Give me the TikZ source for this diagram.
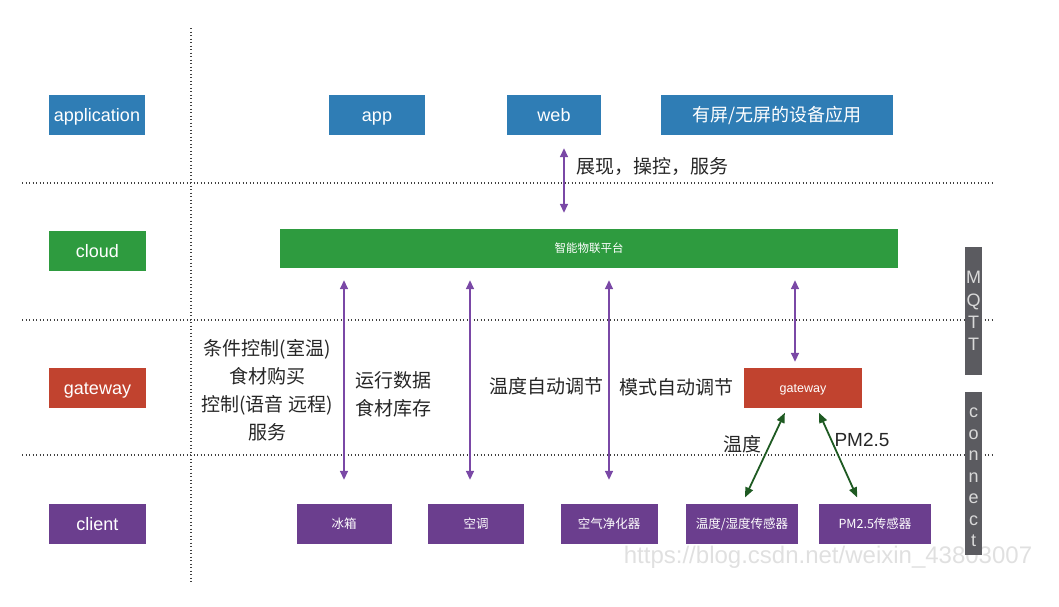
\documentclass[tikz,border=0pt]{standalone}
\usepackage{fontspec}
\setmainfont{Liberation Sans}
\newfontfamily\cjk{Noto Sans CJK SC}
\usetikzlibrary{arrows.meta,calc}
\definecolor{cblue}{HTML}{2F7DB5}
\definecolor{cgreen}{HTML}{2E9B3F}
\definecolor{cred}{HTML}{C1432F}
\definecolor{cpurple}{HTML}{6B3E8E}
\definecolor{carrow}{HTML}{7A48A6}
\definecolor{cdgreen}{HTML}{1E5A22}
\definecolor{cbar}{HTML}{5B5B60}
\definecolor{cdot}{HTML}{404040}
\tikzset{
  box/.style={draw=none, text=white, inner sep=0pt, minimum height=40pt, font=\fontsize{18}{20}\selectfont},
  latinbox/.style={text height=15pt, text depth=3pt},
  bluebox/.style={box, fill=cblue},
  greenbox/.style={box, fill=cgreen},
  redbox/.style={box, fill=cred},
  purplebox/.style={box, fill=cpurple, font=\cjk\fontsize{12.5}{14}\selectfont},
  sepline/.style={draw=cdot, line width=1.4pt, dash pattern=on 1.4pt off 2.1pt},
  parrow/.style={draw=carrow, line width=1.6pt, {Triangle[length=9pt,width=8pt]}-{Triangle[length=9pt,width=8pt]}},
  garrow/.style={draw=cdgreen, line width=1.8pt, {Triangle[length=10pt,width=8pt]}-{Triangle[length=10pt,width=8pt]}},
  lbl/.style={font=\cjk\fontsize{19}{28}\selectfont, text=black!85, inner sep=0pt, align=center},
  barbox/.style={fill=cbar, draw=none, minimum width=17pt, inner sep=0pt},
  barletter/.style={text=black!15, font=\fontsize{18}{21}\selectfont, align=center, inner sep=0pt}
}
\begin{document}
\begin{tikzpicture}[x=1pt,y=-1pt]
\useasboundingbox (0,0) rectangle (1059,606);
% watermark (behind)
\node[text=black!12, font=\fontsize{24}{28}\selectfont, inner sep=0pt] (wm) at (828,557) {https://blog.csdn.net/weixin\_43803007};
% separators
\coordinate (vt) at (191,28);
\coordinate (vb) at (191,583);
\draw[sepline] (vt) -- (vb);
\coordinate (h1l) at (22,183); \coordinate (h1r) at (993,183);
\coordinate (h2l) at (22,320); \coordinate (h2r) at (993,320);
\coordinate (h3l) at (22,455); \coordinate (h3r) at (993,455);
\draw[sepline] (h1l) -- (h1r);
\draw[sepline] (h2l) -- (h2r);
\draw[sepline] (h3l) -- (h3r);
% left layer labels
\node[bluebox, latinbox, minimum width=96pt] (lapp) at (97,115) {application};
\node[greenbox, latinbox, minimum width=97pt] (lcloud) at (97.5,251) {cloud};
\node[redbox, latinbox, minimum width=97pt] (lgw) at (97.5,388) {gateway};
\node[bluebox, latinbox, fill=cpurple, minimum width=97pt] (lclient) at (97.5,524) {client};
% application row
\node[bluebox, latinbox, minimum width=96pt] (app) at (377,115) {app};
\node[bluebox, latinbox, minimum width=94pt] (web) at (554,115) {web};
\node[bluebox, minimum width=232pt, font=\cjk\fontsize{18}{20}\selectfont] (dev) at (777,115) {有屏/无屏的设备应用};
% cloud
\node[greenbox, minimum width=618pt, minimum height=39pt, font=\cjk\fontsize{11.5}{13}\selectfont] (cloud) at (589,248.5) {智能物联平台};
% gateway
\node[redbox, minimum width=118pt, font=\fontsize{12.5}{14}\selectfont, text height=10pt, text depth=2pt] (gw) at (803,388) {gateway};
% clients
\node[purplebox, minimum width=95pt] (fridge) at (344,524) {冰箱};
\node[purplebox, minimum width=96pt] (ac) at (476,524) {空调};
\node[purplebox, minimum width=97pt] (air) at (609,524) {空气净化器};
\node[purplebox, minimum width=112pt] (temp) at (742,524) {温度/湿度传感器};
\node[purplebox, minimum width=112pt] (pm) at (875,524) {PM2.5传感器};
% arrows
\draw[parrow, shorten <=13pt, shorten >=16pt] ($(web.south)+(10,0)$) -- ($(cloud.north -| web.south)+(10,0)$);
\draw[parrow, shorten <=12pt, shorten >=24pt] (cloud.south -| fridge.north) -- (fridge.north);
\draw[parrow, shorten <=12pt, shorten >=24pt] ($(cloud.south -| ac.north)+(-6,0)$) -- ($(ac.north)+(-6,0)$);
\draw[parrow, shorten <=12pt, shorten >=24pt] (cloud.south -| air.north) -- (air.north);
\draw[parrow, shorten <=12pt, shorten >=6pt] ($(cloud.south -| gw.north)+(-8,0)$) -- ($(gw.north)+(-8,0)$);
\draw[garrow, shorten <=5pt, shorten >=7pt] ($(gw.south)+(-16,0)$) -- (temp.north);
\draw[garrow, shorten <=5pt, shorten >=7pt] ($(gw.south)+(14,0)$) -- ($(pm.north)+(-15,0)$);
% labels
\node[lbl, anchor=west] (l1) at (576,167) {展现，操控，服务};
\node[lbl] (l2) at (267,390) {条件控制(室温)\\食材购买\\控制(语音 远程)\\服务};
\node[lbl] (l3) at (393,394) {运行数据\\食材库存};
\node[lbl] (l4) at (546,386) {温度自动调节};
\node[lbl] (l5) at (676,387) {模式自动调节};
\node[lbl] (l6) at (742,444) {温度};
\node[lbl, font=\fontsize{19}{22}\selectfont] (l7) at (862,440) {PM2.5};
% right bars
\node[barbox, minimum height=128pt] (mqtt) at (973.5,311) {};
\node[barletter] at (mqtt) {M\\[2pt]Q\\[1pt]T\\[1pt]T};
\node[barbox, minimum height=163pt] (conn) at (973.5,473.5) {};
\node[barletter, font=\fontsize{18}{21.5}\selectfont] at ($(conn)+(0,4)$) {c\\o\\n\\n\\e\\c\\t};
\end{tikzpicture}
\end{document}
